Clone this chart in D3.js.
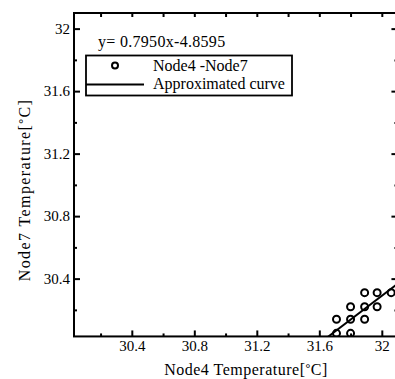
<!DOCTYPE html>
<html>
<head>
<meta charset="utf-8">
<script src="https://cdn.jsdelivr.net/npm/d3@7"></script>
<style>
  body { margin: 0; background: #fff; }
  svg { display: block; }
  text { font-family: "Liberation Serif", "Times New Roman", serif; fill: #000; }
</style>
</head>
<body>
<div id="chart"></div>
<script>
// values
const xDomain = [30.03, 32.1];
const yDomain = [30.03, 32.1];
const majorTicks = [30.4, 30.8, 31.2, 31.6, 32];
const majorTickLabels = ['30.4', '30.8', '31.2', '31.6', '32'];
const minorTicks = [30.2, 30.6, 31.0, 31.4, 31.8];

const node4 = [31.89, 31.97, 32.06, 31.80, 31.89, 31.97, 31.71, 31.80, 31.89, 31.71, 31.80];
const node7 = [30.31, 30.31, 30.31, 30.22, 30.22, 30.22, 30.14, 30.14, 30.14, 30.05, 30.05];

// approximated curve as drawn (slope / intercept)
const fitSlope = 0.762;
const fitIntercept = 5.906;
const fitRange = [31.6, 32.2];

const equationText = 'y= 0.7950x-4.8595';
const legendLabels = ['Node4 -Node7', 'Approximated curve'];

const width = 395, height = 379;
const margin = { left: 74, top: 13 };
const unit = 156.25; // px per degree, same on both axes
const plotW = (xDomain[1] - xDomain[0]) * unit;
const plotH = (yDomain[1] - yDomain[0]) * unit;

const font = '"Liberation Serif", "Times New Roman", serif';

const svg = d3.select('#chart').append('svg')
  .attr('width', width)
  .attr('height', height);

const x = d3.scaleLinear().domain(xDomain).range([margin.left, margin.left + plotW]);
const y = d3.scaleLinear().domain(yDomain).range([margin.top + plotH, margin.top]);

const bottom = margin.top + plotH;
const right = margin.left + plotW;

// clip for data
svg.append('defs').append('clipPath').attr('id', 'plot')
  .append('rect')
  .attr('x', margin.left).attr('y', margin.top)
  .attr('width', plotW).attr('height', plotH);

// Axes (ticks point inward)
function styleAxis(g) {
  g.attr('font-family', font).attr('font-size', 15);
  g.select('.domain').remove();
  g.selectAll('line').attr('stroke', '#000').attr('stroke-width', 2);
  g.selectAll('text').attr('fill', '#000');
}

const fmt = d => majorTickLabels[majorTicks.indexOf(d)];

svg.append('g').attr('transform', `translate(0,${bottom})`)
  .call(d3.axisBottom(x).tickValues(majorTicks).tickSize(-6).tickPadding(4).tickFormat(fmt))
  .call(styleAxis);
svg.append('g').attr('transform', `translate(0,${bottom})`)
  .call(d3.axisBottom(x).tickValues(minorTicks).tickSize(-3).tickFormat(''))
  .call(styleAxis);

svg.append('g').attr('transform', `translate(${margin.left},0)`)
  .call(d3.axisLeft(y).tickValues(majorTicks).tickSize(-6).tickPadding(4).tickFormat(fmt))
  .call(styleAxis);
svg.append('g').attr('transform', `translate(${margin.left},0)`)
  .call(d3.axisLeft(y).tickValues(minorTicks).tickSize(-3).tickFormat(''))
  .call(styleAxis);

svg.append('g').attr('transform', `translate(0,${margin.top})`)
  .call(d3.axisTop(x).tickValues(majorTicks.concat(minorTicks)).tickSize(-4).tickFormat(''))
  .call(styleAxis);
svg.append('g').attr('transform', `translate(${right},0)`)
  .call(d3.axisRight(y).tickValues(majorTicks).tickSize(-6).tickFormat(''))
  .call(styleAxis);
svg.append('g').attr('transform', `translate(${right},0)`)
  .call(d3.axisRight(y).tickValues(minorTicks).tickSize(-3).tickFormat(''))
  .call(styleAxis);

// frame
svg.append('rect')
  .attr('x', margin.left).attr('y', margin.top)
  .attr('width', plotW).attr('height', plotH)
  .attr('fill', 'none')
  .attr('stroke', '#000')
  .attr('stroke-width', 2);

// Fit line
const fitLine = d3.line()
  .x(d => x(d))
  .y(d => y(fitSlope * d + fitIntercept));

svg.append('path')
  .datum(fitRange)
  .attr('clip-path', 'url(#plot)')
  .attr('d', fitLine)
  .attr('fill', 'none')
  .attr('stroke', '#000')
  .attr('stroke-width', 2);

// Points
svg.append('g')
  .attr('clip-path', 'url(#plot)')
  .selectAll('circle')
  .data(node4.map((v, i) => [v, node7[i]]))
  .join('circle')
  .attr('cx', d => x(d[0]))
  .attr('cy', d => y(d[1]))
  .attr('r', 3.5)
  .attr('fill', 'none')
  .attr('stroke', '#000')
  .attr('stroke-width', 2);

// Equation + legend
svg.append('text')
  .attr('x', 98).attr('y', 47)
  .style('font-size', '16px')
  .style('letter-spacing', '0.3px')
  .text(equationText);

const legend = svg.append('g');
legend.append('rect')
  .attr('x', 86).attr('y', 55.5)
  .attr('width', 206).attr('height', 40)
  .attr('fill', '#fff')
  .attr('stroke', '#000')
  .attr('stroke-width', 1.8);
legend.append('circle')
  .attr('cx', 115).attr('cy', 65.5).attr('r', 3)
  .attr('fill', 'none').attr('stroke', '#000').attr('stroke-width', 2);
legend.append('line')
  .attr('x1', 86).attr('x2', 144)
  .attr('y1', 84.5).attr('y2', 84.5)
  .attr('stroke', '#000').attr('stroke-width', 1.8);
legend.selectAll('text.lbl')
  .data(legendLabels)
  .join('text')
  .attr('class', 'lbl')
  .attr('x', 153)
  .attr('y', (d, i) => 71 + i * 18)
  .style('font-size', '16px')
  .text(d => d);

// Axis titles
const xTitle = svg.append('text')
  .attr('x', 246).attr('y', 375)
  .attr('text-anchor', 'middle')
  .style('font-size', '16px')
  .style('letter-spacing', '0.5px');
xTitle.append('tspan').text('Node4 Temperature[');
xTitle.append('tspan').attr('font-weight', 'bold').attr('dy', -3).style('font-size', '12px').text('°');
xTitle.append('tspan').attr('dy', 3).text('C]');

const yTitle = svg.append('text')
  .attr('transform', 'translate(30,190) rotate(-90)')
  .attr('text-anchor', 'middle')
  .style('font-size', '16px')
  .style('letter-spacing', '1.4px');
yTitle.append('tspan').text('Node7 Temperature[');
yTitle.append('tspan').attr('font-weight', 'bold').attr('dy', -3).style('font-size', '12px').text('°');
yTitle.append('tspan').attr('dy', 3).text('C]');
</script>
</body>
</html>
